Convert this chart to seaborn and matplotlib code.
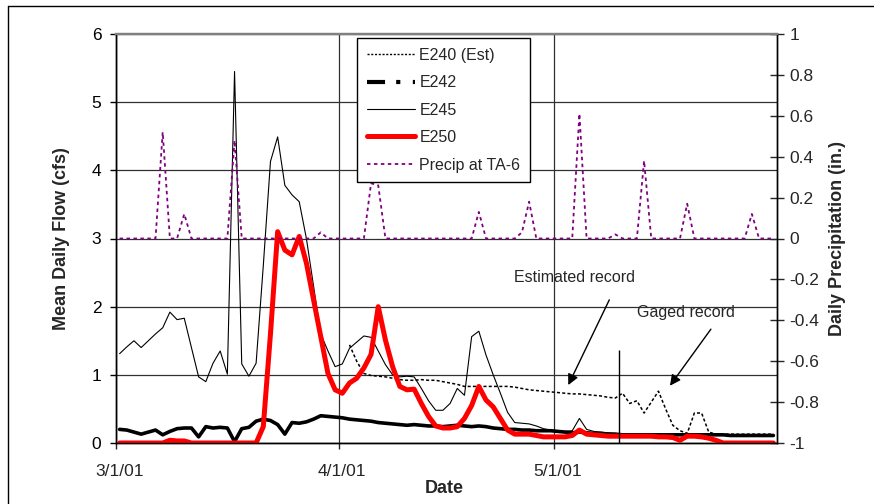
import numpy as np
import pandas as pd
import matplotlib
matplotlib.use("Agg")
import matplotlib.pyplot as plt
import matplotlib.dates as mdates
from matplotlib.lines import Line2D
from matplotlib.transforms import ScaledTranslation
import seaborn as sns

# ---- daily record, 3/1/01 .. 5/31/01 ----
dates = pd.date_range("2001-03-01", "2001-05-31", freq="D")

nan = np.nan
e240_est = [nan] * 32 + [
    1.44, 1.20, 1.02, 0.99, 0.98, 0.97, 0.95, 0.93, 0.92, 0.92,
    0.93, 0.92, 0.92, 0.90, 0.88, 0.86, 0.83, 0.83, 0.83, 0.83,
    0.83, 0.83, 0.83, 0.82, 0.80, 0.78, 0.77, 0.76, 0.75, 0.74,
    0.73, 0.72, 0.72, 0.71, 0.70, 0.69, 0.67, 0.66, 0.73, 0.58,
    0.62, 0.44, 0.60, 0.76, 0.50, 0.26, 0.18, 0.14, 0.44, 0.44,
    0.16, 0.13, 0.13, 0.13, 0.13, 0.13, 0.13, 0.13, 0.13, 0.13,
]

e242 = [
    0.20, 0.19, 0.16, 0.13, 0.16, 0.19, 0.12, 0.17, 0.21, 0.22,
    0.22, 0.09, 0.24, 0.22, 0.23, 0.22, 0.02, 0.21, 0.23, 0.32,
    0.35, 0.33, 0.27, 0.13, 0.30, 0.29, 0.31, 0.35, 0.40, 0.39,
    0.38, 0.37, 0.35, 0.34, 0.33, 0.32, 0.30, 0.29, 0.28, 0.27,
    0.26, 0.27, 0.26, 0.25, 0.25, 0.24, 0.25, 0.26, 0.25, 0.24,
    0.25, 0.24, 0.22, 0.21, 0.20, 0.20, 0.19, 0.19, 0.18, 0.18,
    0.18, 0.17, 0.16, 0.15, 0.16, 0.15, 0.14, 0.14, 0.13, 0.13,
    0.12, 0.12, 0.12, 0.12, 0.12, 0.12, 0.12, 0.12, 0.12, 0.12,
    0.12, 0.12, 0.12, 0.12, 0.12, 0.11, 0.11, 0.11, 0.11, 0.11,
    0.11, 0.11,
]

e245 = [
    1.31, 1.41, 1.50, 1.40, 1.50, 1.60, 1.69, 1.92, 1.81, 1.83,
    1.40, 0.97, 0.90, 1.17, 1.35, 1.01, 5.45, 1.16, 0.98, 1.17,
    2.60, 4.13, 4.49, 3.78, 3.64, 3.54, 3.00, 2.30, 1.60, 1.35,
    1.12, 1.16, 1.39, 1.48, 1.57, 1.55, 1.35, 1.15, 1.00, 0.97,
    0.98, 0.97, 0.80, 0.62, 0.48, 0.48, 0.58, 0.80, 0.70, 1.56,
    1.64, 1.29, 1.00, 0.73, 0.45, 0.30, 0.29, 0.28, 0.25, 0.21,
    0.19, 0.18, 0.17, 0.18, 0.36, 0.20, 0.17, 0.16, 0.15, 0.14,
    0.13, 0.13, 0.13, 0.13, 0.13, 0.13, 0.13, 0.13, 0.13, 0.13,
    0.13, 0.13, 0.12, 0.12, 0.12, 0.12, 0.12, 0.12, 0.12, 0.12,
    0.12, 0.12,
]

e250 = [
    0.00, 0.00, 0.00, 0.00, 0.00, 0.00, 0.00, 0.04, 0.03, 0.03,
    0.00, 0.00, 0.00, 0.00, 0.00, 0.00, 0.00, 0.00, 0.00, 0.00,
    0.24, 1.60, 3.10, 2.83, 2.76, 3.03, 2.64, 2.10, 1.56, 1.02,
    0.78, 0.73, 0.88, 0.95, 1.10, 1.30, 2.00, 1.51, 1.12, 0.83,
    0.78, 0.79, 0.58, 0.39, 0.25, 0.22, 0.22, 0.24, 0.36, 0.55,
    0.83, 0.63, 0.53, 0.36, 0.19, 0.13, 0.13, 0.13, 0.11, 0.09,
    0.09, 0.09, 0.09, 0.11, 0.19, 0.13, 0.12, 0.11, 0.10, 0.10,
    0.10, 0.10, 0.10, 0.10, 0.10, 0.09, 0.09, 0.08, 0.04, 0.10,
    0.10, 0.09, 0.07, 0.04, 0.00, 0.00, 0.00, 0.00, 0.00, 0.00,
    0.00, 0.00,
]

# rain days (day index -> inches); all other days are dry
precip_days = [6, 9, 16, 28, 35, 36, 50, 56, 57, 64, 69, 73, 79, 88]
precip_amts = [0.52, 0.12, 0.48, 0.03, 0.27, 0.26, 0.13, 0.03, 0.18,
               0.61, 0.02, 0.38, 0.17, 0.12]

flow_ticks = [0, 1, 2, 3, 4, 5, 6]
precip_ticks = [1, 0.8, 0.6, 0.4, 0.2, 0, -0.2, -0.4, -0.6, -0.8, -1]
date_ticks = ["2001-03-01", "2001-04-01", "2001-05-01"]
record_split = "2001-05-10"

precip = np.zeros(len(dates))
precip[precip_days] = precip_amts

# each daily value sits in the middle of its day
df = pd.DataFrame({
    "date": dates + pd.Timedelta(hours=12),
    "E240 (Est)": e240_est,
    "E242": e242,
    "E245": e245,
    "E250": e250,
    "Precip": precip,
})

sns.set_style("white")
plt.rcParams["font.family"] = ["Liberation Sans", "DejaVu Sans"]
plt.rcParams["axes.unicode_minus"] = False
plt.rcParams["lines.scale_dashes"] = False

TICK_FS = 12.5
LABEL_FS = 13
TEXT_FS = 11.5

fig = plt.figure(figsize=(8.74, 5.04), dpi=100)
ax = fig.add_axes([116 / 874, 1 - 443 / 504, 661 / 874, 409 / 504])
ax2 = ax.twinx()

PURPLE = "#800080"
RED = "#FF0000"

sns.lineplot(data=df, x="date", y="E242", ax=ax, color="black", lw=2.6,
             estimator=None, zorder=3)
sns.lineplot(data=df, x="date", y="E245", ax=ax, color="black", lw=0.8,
             estimator=None, zorder=4)
sns.lineplot(data=df.dropna(subset=["E240 (Est)"]), x="date", y="E240 (Est)",
             ax=ax, color="black", lw=1.1, linestyle=(0, (2.2, 1.6)),
             estimator=None, zorder=4)
sns.lineplot(data=df, x="date", y="E250", ax=ax, color=RED, lw=3.6,
             estimator=None, zorder=5, solid_joinstyle="round")
sns.lineplot(data=df, x="date", y="Precip", ax=ax2, color=PURPLE, lw=1.3,
             linestyle=(0, (2.5, 2.5)), estimator=None)

# axes limits and ticks
start = pd.Timestamp("2001-03-01")
ax.set_xlim(start, pd.Timestamp("2001-06-01"))
ax.set_ylim(0, 6)
ax2.set_ylim(-1, 1)
ax.set_yticks(flow_ticks)
ax.set_yticklabels([str(v) for v in flow_ticks])
ax2.set_yticks(precip_ticks)
ax2.set_yticklabels([f"{v:g}" for v in precip_ticks])
ax.set_xticks([pd.Timestamp(d) for d in date_ticks])
ax.xaxis.set_major_formatter(
    matplotlib.ticker.FuncFormatter(
        lambda v, p: (lambda t: f"{t.month}/{t.day}/{t.strftime('%y')}")(mdates.num2date(v))))

ax.grid(True, axis="both", color="#303030", lw=0.9)
ax.set_axisbelow(True)

ax.tick_params(axis="y", direction="out", length=4, width=1, pad=6.5,
               labelsize=TICK_FS, left=True, colors="black")
ax.tick_params(axis="x", direction="out", length=4, width=1, pad=11,
               labelsize=TICK_FS, bottom=True)
ax2.tick_params(axis="y", direction="inout", length=10, width=1, pad=4,
                labelsize=TICK_FS, right=True)
for lab in ax.get_xticklabels():
    lab.set_transform(lab.get_transform() + ScaledTranslation(2.5 / 72, 0, fig.dpi_scale_trans))

for a in (ax, ax2):
    for s in a.spines.values():
        s.set_color("black")
        s.set_linewidth(1)
    a.spines["top"].set_color("#808080")
    a.spines["top"].set_linewidth(1.6)

ax.set_xlabel("Date", fontsize=LABEL_FS, fontweight="bold")
ax.set_ylabel("Mean Daily Flow (cfs)", fontsize=LABEL_FS, fontweight="bold")
ax2.set_ylabel("Daily Precipitation (in.)", fontsize=LABEL_FS, fontweight="bold")
ax.xaxis.set_label_coords(0.496, -0.09)
ax.yaxis.set_label_coords(-0.069, 0.5)
ax2.yaxis.set_label_coords(1.078, 0.5)

# boundary between estimated and gaged E240 record
ax.vlines(pd.Timestamp(record_split), 0, 1.36, color="black", lw=1, zorder=6)

def day_x(d):
    return mdates.date2num(start) + d

ax.text(day_x(63.75), 2.435, "Estimated record", fontsize=TEXT_FS,
        ha="center", va="center")
ax.text(day_x(79.3), 1.92, "Gaged record", fontsize=TEXT_FS,
        ha="center", va="center")
arrow = dict(arrowstyle="-|>", color="black", lw=1, mutation_scale=16,
             shrinkA=0, shrinkB=0)
ax.annotate("", xy=(day_x(62.95), 0.85), xytext=(day_x(68.66), 2.10),
            arrowprops=arrow, zorder=7)
ax.annotate("", xy=(day_x(77.1), 0.84), xytext=(day_x(82.8), 1.67),
            arrowprops=arrow, zorder=7)

handles = [
    Line2D([], [], color="black", lw=1.0, linestyle=(0, (1.5, 1.2))),
    Line2D([], [], color="black", lw=3.0, linestyle=(0, (13, 8, 3, 9, 3, 9))),
    Line2D([], [], color="black", lw=0.8),
    Line2D([], [], color=RED, lw=3.6),
    Line2D([], [], color=PURPLE, lw=1.3, linestyle=(0, (2.5, 2.5))),
]
labels = ["E240 (Est)", "E242", "E245", "E250", "Precip at TA-6"]
leg = ax2.legend(handles, labels, loc="upper left",
                 bbox_to_anchor=(0.3646, 0.99), borderaxespad=0,
                 fontsize=TEXT_FS, frameon=True, fancybox=False, shadow=False,
                 edgecolor="black", framealpha=1, handlelength=3.0,
                 handletextpad=0.3, labelspacing=0.78, borderpad=0.6)
leg.get_frame().set_linewidth(1)
leg.set_zorder(20)

# chart-area frame
fig.add_artist(Line2D([8 / 874, 1], [1 - 6 / 504, 1 - 6 / 504],
                      transform=fig.transFigure, color="black", lw=1))
fig.add_artist(Line2D([8 / 874, 8 / 874], [0, 1 - 6 / 504],
                      transform=fig.transFigure, color="black", lw=1))

fig.savefig("out.png", dpi=100)
